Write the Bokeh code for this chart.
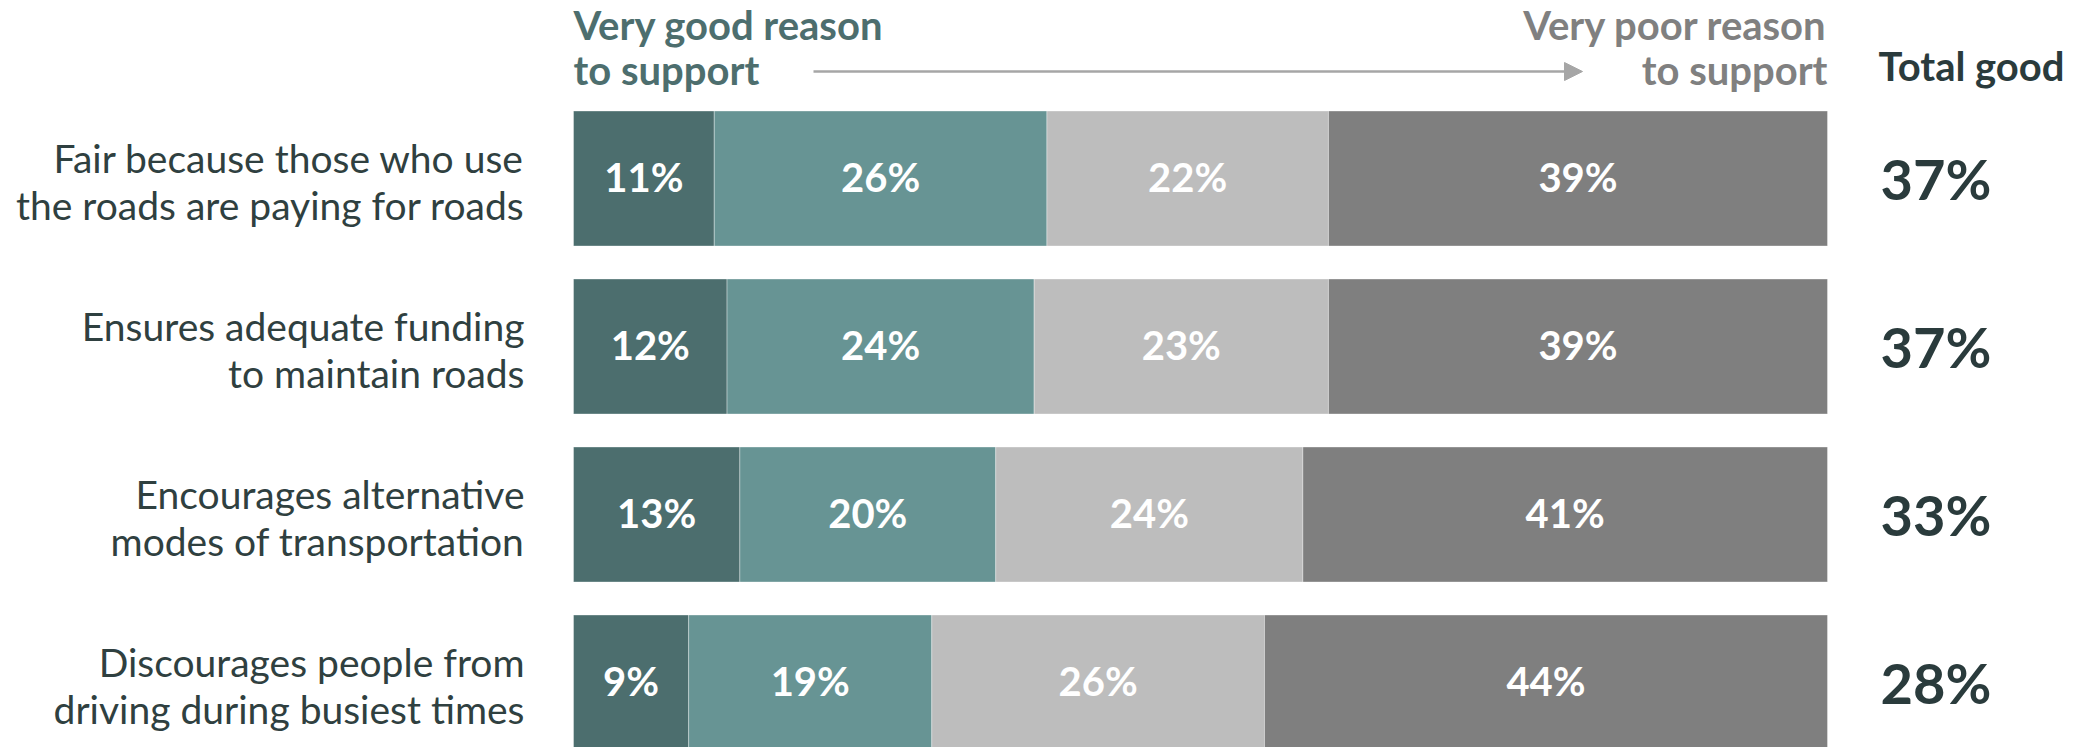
from bokeh.plotting import figure
from bokeh.models import Range1d, ColumnDataSource, Arrow, NormalHead
from bokeh.core.properties import value
from bokeh.embed import file_html
from bokeh.resources import INLINE

# ---- data ----
line1 = ["Fair because those who use", "Ensures adequate funding",
         "Encourages alternative", "Discourages people from"]
line2 = ["the roads are paying for roads", "to maintain roads",
         "modes of transportation", "driving during busiest times"]
very_good = [11, 12, 13, 9]
good = [26, 24, 20, 19]
poor = [22, 23, 24, 26]
very_poor = [39, 39, 41, 44]
total_good = [37, 37, 33, 28]
series_names = ["Very good", "Good", "Poor", "Very poor"]
colors = ["#4c6e6e", "#679494", "#bdbdbd", "#7f7f7f"]

W, H = 2075, 747
FONT = "Lato"

# layout helpers (pixels within the figure -> data units)
bar_left_px, bar_right_px = 573, 1827
xmax = max(a + b + c + d for a, b, c, d in zip(very_good, good, poor, very_poor))
sx = (bar_right_px - bar_left_px) / xmax
x0 = -bar_left_px / sx
x1 = x0 + W / sx
row_pitch = 168.0
first_row_px = 178.0
y_top = -first_row_px / row_pitch
y_bot = y_top + H / row_pitch

def px_y(py):
    return y_top + py / row_pitch

def px_x(px):
    return x0 + px / sx

p = figure(width=W, height=H, output_backend="svg", toolbar_location=None,
           x_range=Range1d(x0, x1), y_range=Range1d(y_bot, y_top),
           min_border=0, outline_line_color=None)
p.axis.visible = False
p.grid.visible = False
p.background_fill_color = "white"
p.border_fill_color = "white"

rows = list(range(len(line1)))
series = [very_good, good, poor, very_poor]
left = [0] * len(rows)
bar_h = 135 / row_pitch
for vals, col in zip(series, colors):
    right = [l + v for l, v in zip(left, vals)]
    src = ColumnDataSource(dict(y=rows, left=left, right=right,
                                mid=[(l + r) / 2 for l, r in zip(left, right)],
                                lab=[f"{v}%" for v in vals]))
    p.hbar(y="y", left="left", right="right", height=bar_h, source=src,
           fill_color=col, line_color="white", line_alpha=0.35, line_width=1)
    p.text(x="mid", y="y", text="lab", source=src, text_color="white",
           text_font=value(FONT), text_font_style="bold", text_font_size="40px",
           text_align="center", text_baseline="middle", y_offset=-2)
    left = right

# category labels
cat = ColumnDataSource(dict(y=rows, x=[0] * len(rows), l1=line1, l2=line2))
p.text(x="x", y="y", text="l1", source=cat, x_offset=-49, y_offset=-21,
       text_color="#2f4040", text_font=value(FONT), text_font_size="39px",
       text_align="right", text_baseline="middle")
p.text(x="x", y="y", text="l2", source=cat, x_offset=-49, y_offset=26,
       text_color="#2f4040", text_font=value(FONT), text_font_size="39px",
       text_align="right", text_baseline="middle")

# totals
tot = ColumnDataSource(dict(y=rows, x=[xmax] * len(rows),
                            lab=[f"{v}%" for v in total_good]))
p.text(x="x", y="y", text="lab", source=tot, x_offset=53,
       text_color="#2a3b3c", text_font=value(FONT), text_font_style="bold",
       text_font_size="56px", text_align="left", text_baseline="middle")

# headers
hy1, hy2 = px_y(24), px_y(69)
p.text(x=[0, 0], y=[hy1, hy2], text=["Very good reason", "to support"],
       text_color="#4d6e6e", text_font=value(FONT), text_font_style="bold",
       text_font_size="40px", text_align="left", text_baseline="middle")
p.text(x=[xmax, xmax], y=[hy1, hy2], text=["Very poor reason", "to support"],
       text_color="#808080", text_font=value(FONT), text_font_style="bold",
       text_font_size="40px", text_align="right", text_baseline="middle")
p.text(x=[xmax], y=[px_y(65)], text=["Total good"], x_offset=51,
       text_color="#2a3b3c", text_font=value(FONT), text_font_style="bold",
       text_font_size="40px", text_align="left", text_baseline="middle")

p.add_layout(Arrow(x_start=px_x(813), y_start=px_y(71), x_end=px_x(1582), y_end=px_y(71),
                   line_color="#a6a6a6", line_width=2.5,
                   end=NormalHead(size=18, fill_color="#a6a6a6", line_color="#a6a6a6")))

open("out.html", "w").write(file_html(p, INLINE))
